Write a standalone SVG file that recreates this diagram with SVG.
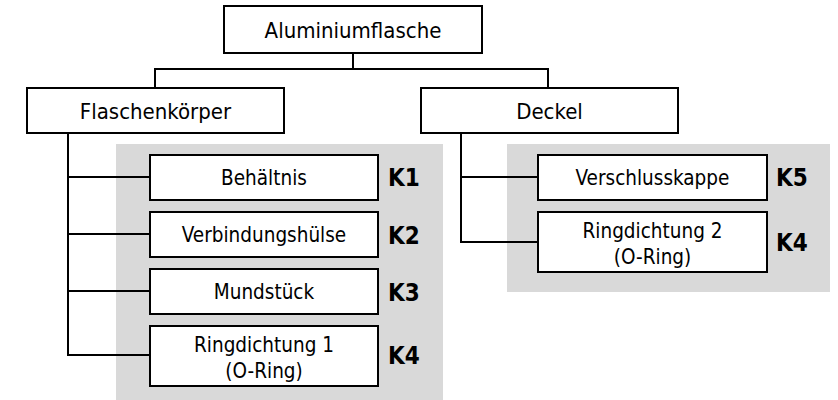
<svg xmlns="http://www.w3.org/2000/svg" width="838" height="400" viewBox="0 0 838 400">
<style>
.bg{fill:#d9d9d9}
.box{fill:#fff;stroke:#000;stroke-width:2}
.ln{fill:none;stroke:#000;stroke-width:2}
text{font-family:"DejaVu Sans Condensed","DejaVu Sans",Verdana,sans-serif;font-stretch:condensed;fill:#000;text-anchor:middle}
.l{font-size:22px}
.s{font-size:20.5px}
.k{font-size:24px;font-weight:bold;text-anchor:start}
</style>
<rect class="bg" x="116" y="144" width="327" height="256"/>
<rect class="bg" x="507" y="144" width="323" height="148"/>
<g id="connectors">
<path class="ln" d="M353,53 V69 M155,88 V69 H548 V88"/>
<path class="ln" d="M68,133 V355 H150 M68,177 H150 M68,234 H150 M68,291 H150"/>
<path class="ln" d="M461,133 V242 H538 M461,177 H538"/>
</g>
<g id="n-alu"><rect class="box" x="224" y="6" width="258" height="47"/><text class="l" x="353" y="37.5">Aluminiumflasche</text></g>
<g id="n-flasche"><rect class="box" x="27" y="88" width="257" height="45"/><text class="l" x="155.5" y="118.5">Flaschenkörper</text></g>
<g id="n-deckel"><rect class="box" x="421" y="88" width="257" height="45"/><text class="l" x="549.5" y="118.5">Deckel</text></g>
<g id="n-behaeltnis"><rect class="box" x="150" y="155" width="228" height="45"/><text class="s" x="264" y="185">Behältnis</text><text class="k" x="388" y="186">K1</text></g>
<g id="n-verbindung"><rect class="box" x="150" y="212" width="228" height="45"/><text class="s" x="264" y="242">Verbindungshülse</text><text class="k" x="388" y="243.5">K2</text></g>
<g id="n-mund"><rect class="box" x="150" y="269" width="228" height="45"/><text class="s" x="264" y="299">Mundstück</text><text class="k" x="388" y="300.5">K3</text></g>
<g id="n-ring1"><rect class="box" x="150" y="326" width="228" height="60"/><text class="s" x="264" y="352">Ringdichtung 1</text><text class="s" x="264" y="378">(O-Ring)</text><text class="k" x="388" y="364">K4</text></g>
<g id="n-kappe"><rect class="box" x="538" y="155" width="229" height="45"/><text class="s" x="652.5" y="185">Verschlusskappe</text><text class="k" x="776" y="186">K5</text></g>
<g id="n-ring2"><rect class="box" x="538" y="212" width="229" height="60"/><text class="s" x="652.5" y="238">Ringdichtung 2</text><text class="s" x="652.5" y="264">(O-Ring)</text><text class="k" x="776" y="250.5">K4</text></g>
</svg>
